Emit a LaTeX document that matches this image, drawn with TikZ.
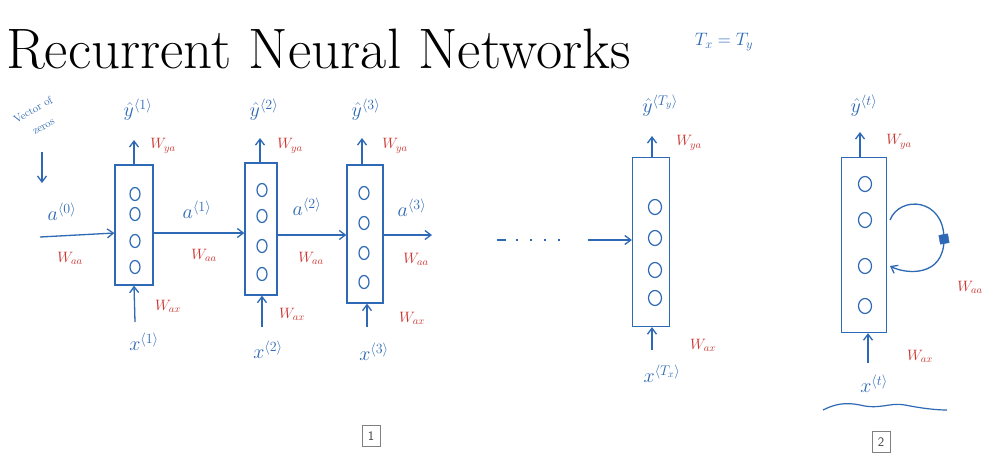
\RequirePackage{fix-cm}
\documentclass[tikz,border=0pt]{standalone}
\usepackage{amsmath}
\usetikzlibrary{arrows.meta,shapes.geometric}
\definecolor{pen}{RGB}{45,105,180}
\definecolor{ink}{RGB}{205,50,45}
\tikzset{
  cell/.style={draw=pen, line width=1.3pt, rectangle, minimum width=#1, inner sep=0pt},
  neuron/.style={draw=pen, line width=1.2pt, ellipse, minimum width=10pt, minimum height=13pt, inner sep=0pt},
  bigneuron/.style={neuron, minimum width=13pt, minimum height=15pt},
  flow/.style={draw=pen, line width=1.3pt, -{Straight Barb[length=6pt,width=9pt]}},
  lbl/.style={text=pen, font=\fontsize{20}{22}\selectfont, inner sep=1pt},
  wlbl/.style={text=ink, font=\fontsize{15}{17}\selectfont, inner sep=1pt},
  note/.style={text=pen, rotate=30, font=\fontsize{11}{13}\selectfont, inner sep=0pt},
  tag/.style={draw=gray, line width=0.6pt, minimum width=18pt, minimum height=21pt, inner sep=0pt, font=\sffamily\fontsize{13}{15}\selectfont, text=black!75}
}
\begin{document}
\begin{tikzpicture}[x=1pt,y=-1pt]
\useasboundingbox[fill=white] (0,0) rectangle (1005,467);

% title
\node[anchor=base west, inner sep=0pt, font=\fontsize{57}{60}\selectfont] (title) at (6,68) {Recurrent Neural Networks};
\node[lbl, font=\fontsize{18}{20}\selectfont] (txty) at (724,42) {$T_x = T_y$};

% ---------- cell 1 ----------
\node[cell=38pt, minimum height=120pt] (c1) at (134,225) {};
\foreach \yy [count=\i] in {194,214,241,267} \node[neuron] (n1\i) at (135,\yy) {};
\node[lbl] (y1) at (138,110) {$\hat{y}^{\langle 1\rangle}$};
\coordinate (y1e) at (134,140);
\draw[flow] (c1.north) -- (y1e);
\node[wlbl] (wya1) at (163,146) {$W_{ya}$};
\coordinate (x1s) at (135,322);
\draw[flow] (x1s) -- (c1.south);
\node[wlbl] (wax1) at (168,306) {$W_{ax}$};
\node[lbl] (x1) at (144,342) {$x^{\langle 1\rangle}$};
% a0
\node[lbl] (a0) at (62,212) {$a^{\langle 0\rangle}$};
\coordinate (a0s) at (40,237);
\draw[flow] (a0s) -- (c1.west |- 0,233);
\node[wlbl] (waa0) at (70,258) {$W_{aa}$};
\node[note] (vz1t) at (33,110) {Vector of};
\node[note] (vz2t) at (44,127) {zeros};
\coordinate (vz1) at (42,152);
\coordinate (vz2) at (42,183);
\draw[flow] (vz1) -- (vz2);

% ---------- cell 2 ----------
\node[cell=32pt, minimum height=132pt] (c2) at (261,229) {};
\foreach \yy [count=\i] in {190,216,246,274} \node[neuron] (n2\i) at (262,\yy) {};
\node[lbl] (y2) at (264,110) {$\hat{y}^{\langle 2\rangle}$};
\coordinate (y2e) at (260,138);
\draw[flow] (c2.north -| 260,0) -- (y2e);
\node[wlbl] (wya2) at (290,146) {$W_{ya}$};
\coordinate (x2s) at (262,327);
\draw[flow] (x2s) -- (c2.south -| 262,0);
\node[wlbl] (wax2) at (292,314) {$W_{ax}$};
\node[lbl] (x2) at (268,350) {$x^{\langle 2\rangle}$};
\draw[flow] (c1.east |- 0,233) -- (c2.west |- 0,233);
\node[lbl] (a1) at (197,210) {$a^{\langle 1\rangle}$};
\node[wlbl] (waa1) at (204,255) {$W_{aa}$};

% ---------- cell 3 ----------
\node[cell=36pt, minimum height=138pt] (c3) at (365,234) {};
\foreach \yy [count=\i] in {193,223,253,282} \node[neuron] (n3\i) at (364,\yy) {};
\node[lbl] (y3) at (366,110) {$\hat{y}^{\langle 3\rangle}$};
\coordinate (y3e) at (362,138);
\draw[flow] (c3.north -| 362,0) -- (y3e);
\node[wlbl] (wya3) at (395,146) {$W_{ya}$};
\coordinate (x3s) at (367,327);
\draw[flow] (x3s) -- (c3.south -| 367,0);
\node[wlbl] (wax3) at (412,318) {$W_{ax}$};
\node[lbl] (x3) at (374,352) {$x^{\langle 3\rangle}$};
\draw[flow] (c2.east |- 0,235) -- (c3.west |- 0,235);
\node[lbl] (a2) at (307,207) {$a^{\langle 2\rangle}$};
\node[wlbl] (waa2) at (311,258) {$W_{aa}$};
\coordinate (a3e) at (432,235);
\draw[flow] (c3.east |- 0,235) -- (a3e);
\node[lbl] (a3) at (412,208) {$a^{\langle 3\rangle}$};
\node[wlbl] (waa3) at (416,259) {$W_{aa}$};

% ---------- dots ----------
\coordinate (d1) at (497,240);
\coordinate (d2) at (565,240);
\draw[pen, line width=1.4pt, dash pattern=on 9pt off 10pt on 2pt off 12pt on 2pt off 12pt on 2pt off 12pt on 2pt] (d1) -- (d2);
\coordinate (dts) at (588,240);

% ---------- cell Ty ----------
\node[cell=37pt, minimum height=169pt] (cT) at (651,242) {};
\foreach \yy [count=\i] in {207,238,270,298} \node[bigneuron] (nT\i) at (655,\yy) {};
\draw[flow] (dts) -- (cT.west |- 0,240);
\node[lbl] (yT) at (660,106) {$\hat{y}^{\langle T_y\rangle}$};
\coordinate (yTe) at (652,136);
\draw[flow] (cT.north -| 652,0) -- (yTe);
\node[wlbl] (wyaT) at (689,143) {$W_{ya}$};
\coordinate (xTs) at (652,350);
\draw[flow] (xTs) -- (cT.south -| 652,0);
\node[wlbl] (waxT) at (703,345) {$W_{ax}$};
\node[lbl] (xT) at (662,374) {$x^{\langle T_x\rangle}$};

% ---------- cell t (rolled) ----------
\node[cell=45pt, minimum height=175pt] (ct) at (864,245) {};
\foreach \yy [count=\i] in {184,220,266,306} \node[bigneuron] (nt\i) at (865,\yy) {};
\node[lbl] (yt) at (864,106) {$\hat{y}^{\langle t\rangle}$};
\coordinate (yte) at (860,132);
\draw[flow] (ct.north -| 860,0) -- (yte);
\node[wlbl] (wyat) at (899,142) {$W_{ya}$};
\coordinate (xts) at (868,363);
\draw[flow] (xts) -- (ct.south -| 868,0);
\node[wlbl] (waxt) at (920,356) {$W_{ax}$};
\node[lbl] (xt) at (874,384) {$x^{\langle t\rangle}$};
\coordinate (lp1) at (890,220);
\coordinate (lp2) at (890,266);
\node[fill=pen, draw=pen, minimum size=9pt, inner sep=0pt, rotate=10] (sq) at (944,239) {};
\draw[flow] (lp1) .. controls (900,195) and (944,198) .. (sq.center) .. controls (944,278) and (905,274) .. (lp2);
\node[wlbl] (waat) at (970,287) {$W_{aa}$};
\coordinate (u1) at (823,410);
\coordinate (u2) at (947,410);
\draw[pen, line width=1.2pt] (u1) .. controls (835,404) and (845,402) .. (860,405) .. controls (880,410) and (890,402) .. (905,405) .. controls (920,408) and (935,410) .. (u2);

% tags
\node[tag] (tag1) at (371,436) {1};
\node[tag] (tag2) at (881,442) {2};
\end{tikzpicture}
\end{document}
